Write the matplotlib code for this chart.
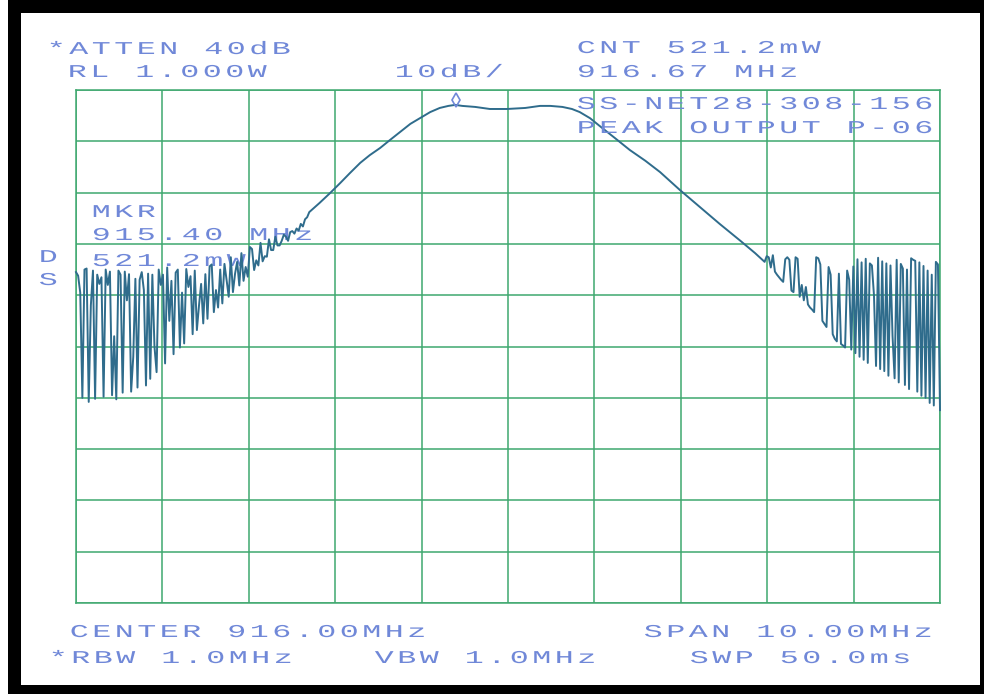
#!/usr/bin/env python3
"""Spectrum analyzer hard copy: SS-NET28-308-156 peak output, 916 MHz centre, 10 MHz span."""
import numpy as np
import matplotlib
matplotlib.use("Agg")
import matplotlib.pyplot as plt
from matplotlib.patches import Rectangle
from matplotlib.path import Path
from matplotlib.patheffects import AbstractPathEffect
from matplotlib.transforms import offset_copy

# --- trace (dBm vs MHz) ----------------------------------------------------
# noise riding on the lower skirt
left_freq = np.linspace(911.0, 913.70, 111)
left_dbm = [
    -5.5, -6.2, -9.5, -30.0, -5.0, -4.8, -30.8, -12.0, -5.2, -30.2,
    -6.0, -7.8, -6.5, -29.8, -5.0, -8.0, -5.4, -29.5, -18.0, -30.3,
    -5.2, -6.0, -29.0, -5.4, -11.0, -5.9, -28.8, -22.0, -6.8, -28.0,
    -7.0, -5.5, -9.0, -27.6, -5.8, -26.3, -6.0, -20.0, -25.0, -5.0,
    -8.0, -6.0, -23.3, -4.6, -15.0, -7.2, -21.5, -5.6, -5.0, -20.2,
    -9.5, -19.4, -4.9, -8.4, -6.3, -17.6, -5.2, -16.8, -12.0, -7.8,
    -15.5, -5.9, -14.6, -4.4, -4.0, -13.3, -9.0, -12.4, -5.0, -11.6,
    -3.9, -7.0, -10.3, -2.6, -9.4, -5.8, -3.5, -8.1, -1.8, -7.2,
    -4.5, -6.4, -0.6, -1.0, -5.1, -3.2, -4.2, 0.2, -3.4, -2.4,
    -2.5, 0.9, -1.2, -1.2, 1.4, -0.3, -0.3, 0.6, 1.8, 1.4,
    0.6, 2.3, 2.5, 2.0, 3.0, 2.6, 3.9, 3.4, 4.8, 5.2, 6.2,
]
# clean part of the response
main_freq = [
    913.82, 913.94, 914.06, 914.17, 914.29, 914.40, 914.52, 914.63, 914.75, 914.87,
    914.98, 915.10, 915.21, 915.31, 915.39, 915.47, 915.62, 915.79, 915.99, 916.20,
    916.37, 916.49, 916.63, 916.74, 916.83, 916.95, 917.06, 917.24, 917.41, 917.59,
    917.76, 917.99, 918.22, 918.45, 918.69, 918.86,
]
main_dbm = [
    8.0, 9.9, 11.9, 13.8, 15.8, 17.3, 18.7, 20.2, 21.8, 23.4,
    24.5, 25.7, 26.5, 26.9, 27.1, 26.9, 26.7, 26.3, 26.3, 26.5,
    26.9, 26.9, 26.7, 26.3, 25.7, 24.5, 23.0, 20.6, 18.3, 16.2,
    14.0, 10.5, 7.2, 3.9, 0.6, -1.8,
]
# noise on the upper skirt
right_freq = np.linspace(918.97, 921.0, 86)
right_dbm = [
    -3.5, -2.4, -2.6, -4.6, -2.2, -5.4, -6.0, -6.5, -7.0, -7.4,
    -3.0, -2.6, -3.1, -9.1, -9.4, -2.6, -2.9, -10.3, -8.0, -11.0,
    -8.4, -11.8, -12.4, -12.8, -13.3, -2.6, -2.8, -4.0, -15.0, -15.6,
    -16.2, -4.5, -6.0, -17.6, -18.5, -19.0, -5.8, -19.5, -19.8, -20.2,
    -5.2, -7.0, -20.6, -4.4, -21.3, -3.0, -22.0, -3.6, -22.6, -2.9,
    -23.2, -3.8, -4.2, -10.0, -23.8, -2.7, -24.4, -3.4, -24.8, -3.8,
    -25.7, -4.2, -18.0, -26.2, -3.1, -27.0, -3.9, -4.8, -27.5, -5.0,
    -28.3, -2.8, -3.1, -3.3, -28.8, -3.6, -29.6, -4.3, -30.0, -5.2,
    -31.0, -6.0, -31.5, -3.5, -4.0, -32.4,
]

marker_freq = 915.40
marker_dbm = 27.1

f_start, f_stop = 911.0, 921.0
ref_level = 30.0      # RL 1.000 W
db_per_div = 10

header_left = ["*ATTEN 40dB", "RL 1.000W"]
header_scale = "10dB/"
header_right = ["CNT 521.2mW", "916.67 MHz", "SS-NET28-308-156", "PEAK OUTPUT P-06"]
marker_lines = ["MKR", "915.40 MHz", "521.2mW"]
side_letters = ["D", "S"]
footer_top = ["CENTER 916.00MHz", "SPAN 10.00MHz"]
footer_bottom = ["*RBW 1.0MHz", "VBW 1.0MHz", "SWP 50.0ms"]

INK = "#7088d8"
TRACE = "#2f6c8c"
GRID = "#3fa86f"
W, H = 984, 694
FONT_PT = 13


class PlotterLettering(AbstractPathEffect):
    """Redraw a monospaced text path with the wide pitch and wide letters of the plotter."""

    ADVANCE = 1229 / 2048 * 100  # Liberation Mono advance, in text-path units (100 per em)

    def __init__(self, pitch_px, widen, fontsize):
        super().__init__()
        em_px = fontsize * 100 / 72
        self.pitch = pitch_px / em_px * 100
        self.widen = widen

    def draw_path(self, renderer, gc, tpath, affine, rgbFace=None):
        codes = tpath.codes
        if codes is None or len(codes) == 0:
            renderer.draw_path(gc, tpath, affine, rgbFace)
            return
        verts = np.array(tpath.vertices, dtype=float)
        starts = np.flatnonzero(codes == Path.MOVETO)
        stops = np.append(starts[1:], len(codes))
        for a, b in zip(starts, stops):
            keep = codes[a:b] != Path.CLOSEPOLY
            xs = verts[a:b, 0].copy()
            mid = 0.5 * (xs[keep].min() + xs[keep].max())
            cell = np.floor(mid / self.ADVANCE)
            verts[a:b, 0] = (cell + 0.5) * self.pitch + (xs - (cell + 0.5) * self.ADVANCE) * self.widen
        renderer.draw_path(gc, Path(verts, codes), affine, rgbFace)


def fig_xy(x, y):
    return x / W, 1 - y / H


fig = plt.figure(figsize=(W / 100, H / 100), dpi=100)
fig.patch.set_facecolor("white")
# black mount around the print
fig.add_artist(Rectangle(fig_xy(8, H), (W - 8) / W, 1, transform=fig.transFigure,
                         facecolor="black", edgecolor="none", zorder=-10))
fig.add_artist(Rectangle(fig_xy(21, 685), (980 - 21) / W, (685 - 13) / H, transform=fig.transFigure,
                         facecolor="white", edgecolor="none", zorder=-9))

x0, y0 = fig_xy(76, 603)
x1, y1 = fig_xy(940, 90)
ax = fig.add_axes([x0, y0, x1 - x0, y1 - y0])
ax.set_facecolor("none")
ax.set_xlim(f_start, f_stop)
ax.set_ylim(ref_level - 10 * db_per_div, ref_level)
ax.set_xticks(np.linspace(f_start, f_stop, 11))
ax.set_yticks(np.arange(ref_level - 10 * db_per_div, ref_level + 1, db_per_div))
ax.tick_params(length=0, labelbottom=False, labelleft=False)
ax.grid(True, color=GRID, lw=1.1)
ax.set_axisbelow(True)
for sp in ax.spines.values():
    sp.set_color(GRID)
    sp.set_linewidth(1.1)

freq = np.concatenate([left_freq, main_freq, right_freq])
dbm = np.concatenate([left_dbm, main_dbm, right_dbm])
ax.plot(freq, dbm, color=TRACE, lw=1.4, zorder=3, clip_on=False)
ax.plot([marker_freq], [marker_dbm], marker="d", ms=7, mfc="none", mec=INK, mew=1.2, zorder=4,
        transform=offset_copy(ax.transData, fig=fig, x=0, y=5, units="dots"))

plotter = PlotterLettering(pitch_px=22.5, widen=1.75, fontsize=FONT_PT)
style = dict(fontsize=FONT_PT, family="Liberation Mono", color=INK, ha="left", va="baseline",
             path_effects=[plotter])


def label(x, y, s, on_axes=False):
    if on_axes:
        ax.text(*fig_xy(x, y), s, transform=fig.transFigure, zorder=1, **style)
    else:
        fig.text(*fig_xy(x, y), s, **style)


label(45, 54, header_left[0])
label(66, 77, header_left[1])
label(393, 77, header_scale)
for s, y in zip(header_right, [53, 77, 109, 133]):
    label(575, y, s)
for s, y in zip(marker_lines, [217, 240, 266]):
    label(90, y, s, on_axes=True)
for s, y in zip(side_letters, [262, 285]):
    label(37, y, s)
label(68, 637, footer_top[0])
label(642, 637, footer_top[1])
for s, x in zip(footer_bottom, [47, 373, 688]):
    label(x, 663, s)

fig.savefig("out.png", dpi=100)
